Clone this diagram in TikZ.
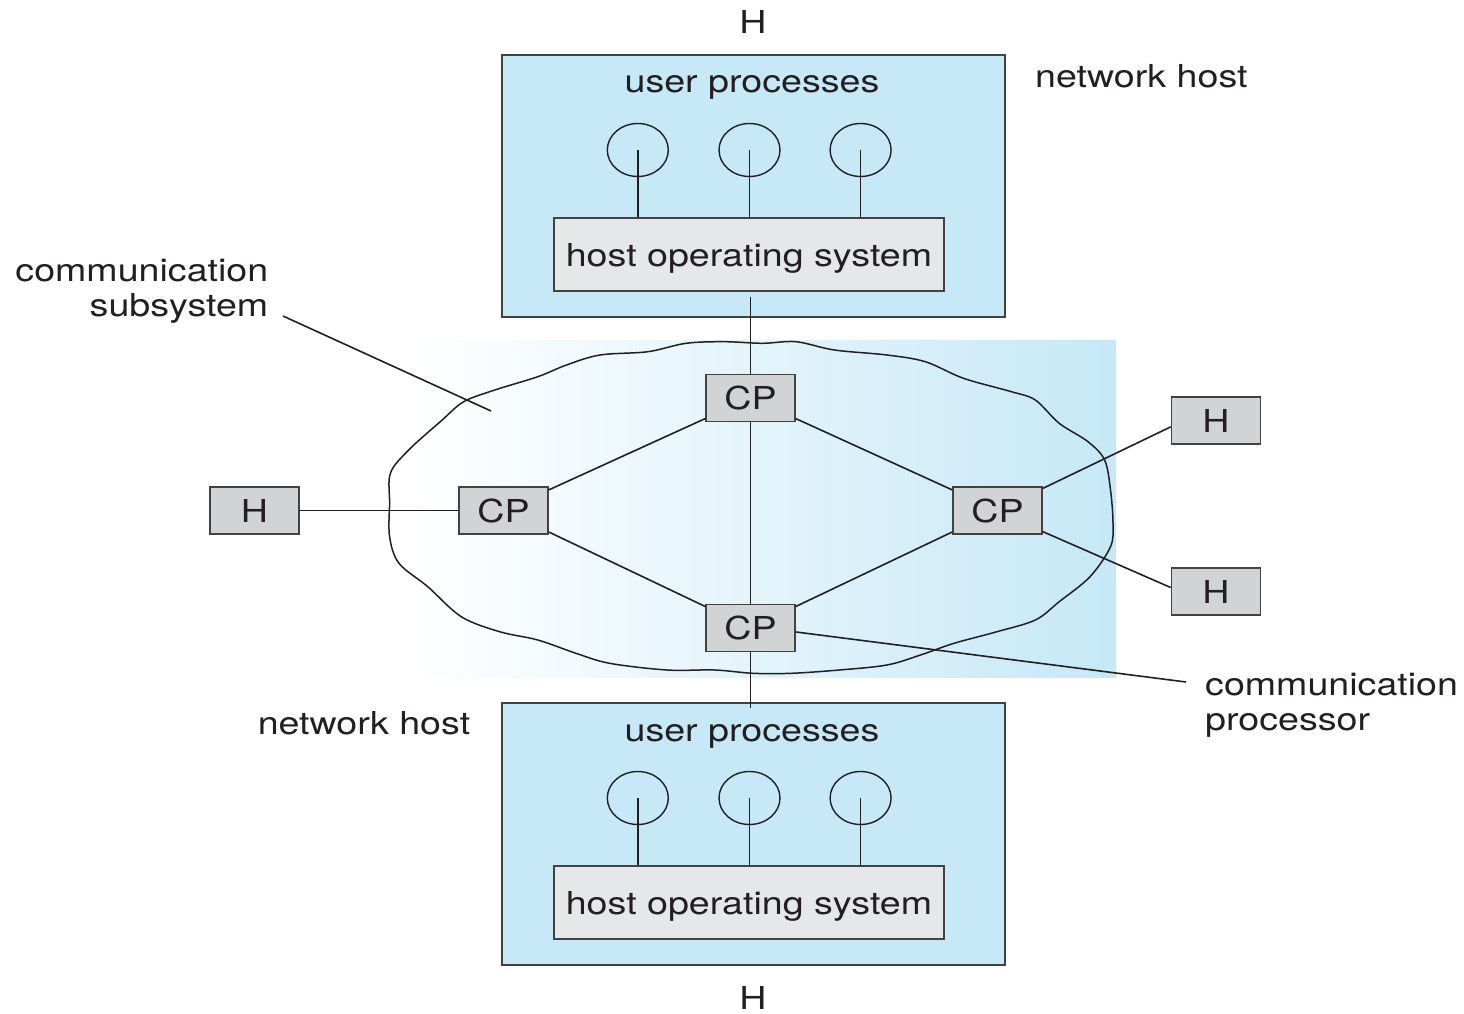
\documentclass[tikz,border=0pt]{standalone}
\usepackage{fontspec}
\setmainfont{TeX Gyre Heros}[FakeStretch=1.19]
\usetikzlibrary{shapes.geometric}
\definecolor{hostblue}{HTML}{C6E8F7}
\definecolor{cpgray}{HTML}{D1D3D4}
\definecolor{osgray}{HTML}{E6E7E8}
\definecolor{ink}{HTML}{231F20}
\begin{document}
\begin{tikzpicture}[x=1pt,y=-1pt,
  lbl/.style={font=\fontsize{31.6}{35}\selectfont, text=ink, inner sep=0pt},
  hostbox/.style={draw=ink!85, line width=1.8pt, fill=hostblue, anchor=north west,
                  minimum width=503pt, minimum height=262pt, inner sep=0pt},
  osbox/.style={lbl, draw=ink!85, line width=1.6pt, fill=osgray, text depth=0pt,
                minimum width=390pt, minimum height=73pt},
  cpbox/.style={lbl, draw=ink!85, line width=1.6pt, fill=cpgray,
                minimum width=89pt, minimum height=47pt},
  proc/.style={draw=ink, line width=1.4pt, ellipse, minimum width=61pt,
               minimum height=53pt, inner sep=0pt},
  link/.style={draw=ink, line width=1.6pt},
]
\useasboundingbox (0,0) rectangle (1464,1014);

% shaded band behind the communication subsystem
\shade[left color=white, right color=hostblue] (412,340) rectangle (1116,677);

% outline of the subsystem cloud
\draw[ink, line width=1.5pt] plot[smooth cycle, tension=0.55] coordinates {
  (389.6,503) (390.5,473) (408.7,450) (442.2,420) (463.7,401.7) (494.8,390)
  (537.8,376.7) (566.5,365) (600,355) (647.9,351.7) (686,343.3) (724.4,341.7)
  (762.6,343.3) (796,341.7) (834.4,350) (887,355) (925.3,361.7) (963.5,378.3)
  (1011.4,391.7) (1035.3,400) (1059.2,423.3) (1088,441.7) (1104.6,460)
  (1110.5,490) (1113,523.3) (1110.5,546.7) (1090,576.7) (1059.2,601.7)
  (1035.3,620) (997,631.7) (954,643.3) (920.5,655) (887,665) (839.2,670)
  (791.3,673.3) (753,673.3) (714.8,670) (667,670) (609.6,663.3) (576,653.3)
  (537.8,640) (499.6,631.7) (461.3,616.7) (427.8,586.7) (399,563.3) (389.6,536.7)};

% upper network host
\node[hostbox] (hostT) at (501,54) {};
\node[lbl, anchor=base] (upT) at (752,93) {user processes};
\node[proc] (pT1) at (637.8,150) {};
\node[proc] (pT2) at (749.5,150) {};
\node[proc] (pT3) at (860.6,150) {};
\node[osbox] (osT) at (749,254.5) {host operating system};
\foreach \p in {pT1,pT2,pT3}
  \draw[link] (\p.center) -- (\p.center |- osT.north);

% lower network host
\node[hostbox] (hostB) at (501,702) {};
\node[lbl, anchor=base] (upB) at (752,741) {user processes};
\node[proc] (pB1) at (637.8,798) {};
\node[proc] (pB2) at (749.5,798) {};
\node[proc] (pB3) at (860.6,798) {};
\node[osbox] (osB) at (749,902.5) {host operating system};
\foreach \p in {pB1,pB2,pB3}
  \draw[link] (\p.center) -- (\p.center |- osB.north);

% communication processors and attached hosts
\node[cpbox] (cpT) at (750.5,398) {CP};
\node[cpbox] (cpL) at (503.5,510.5) {CP};
\node[cpbox] (cpR) at (997.5,510.5) {CP};
\node[cpbox] (cpB) at (750.5,628) {CP};
\node[cpbox] (hL)  at (254.5,510.5) {H};
\node[cpbox] (hRt) at (1216,420.5) {H};
\node[cpbox] (hRb) at (1216,591.5) {H};

\coordinate (stubT) at (750.5,297);
\coordinate (stubB) at (750.5,708);
\draw[link] (stubT) -- (cpT.north);
\draw[link] (cpB.south) -- (stubB);
\draw[link] (cpT) -- (cpL);
\draw[link] (cpT) -- (cpR);
\draw[link] (cpT) -- (cpB);
\draw[link] (cpL) -- (cpB);
\draw[link] (cpR) -- (cpB);
\draw[link] (hL) -- (cpL);
\draw[link] (cpR.26) -- (hRt.188);
\draw[link] (cpR.335) -- (hRb.175);

% labels and leaders
\node[lbl, anchor=base] (hTopLbl) at (753,33.3) {H};
\node[lbl, anchor=base] (hBotLbl) at (753,1009) {H};
\node[lbl, anchor=base west] (netT) at (1035,87.3) {network host};
\node[lbl, anchor=base west] (netB) at (257.6,734) {network host};
\node[lbl, align=right, anchor=base east] (subLbl) at (268.5,316.7) {communication\\subsystem};
\node[lbl, align=left, anchor=base west] (procLbl) at (1205,730) {communication\\processor};

\coordinate (subA) at (283,316);
\coordinate (subB) at (491,411);
\draw[link] (subA) -- (subB);
\coordinate (procEnd) at (1186,682);
\draw[link] (cpB.355) -- (procEnd);
\end{tikzpicture}
\end{document}
